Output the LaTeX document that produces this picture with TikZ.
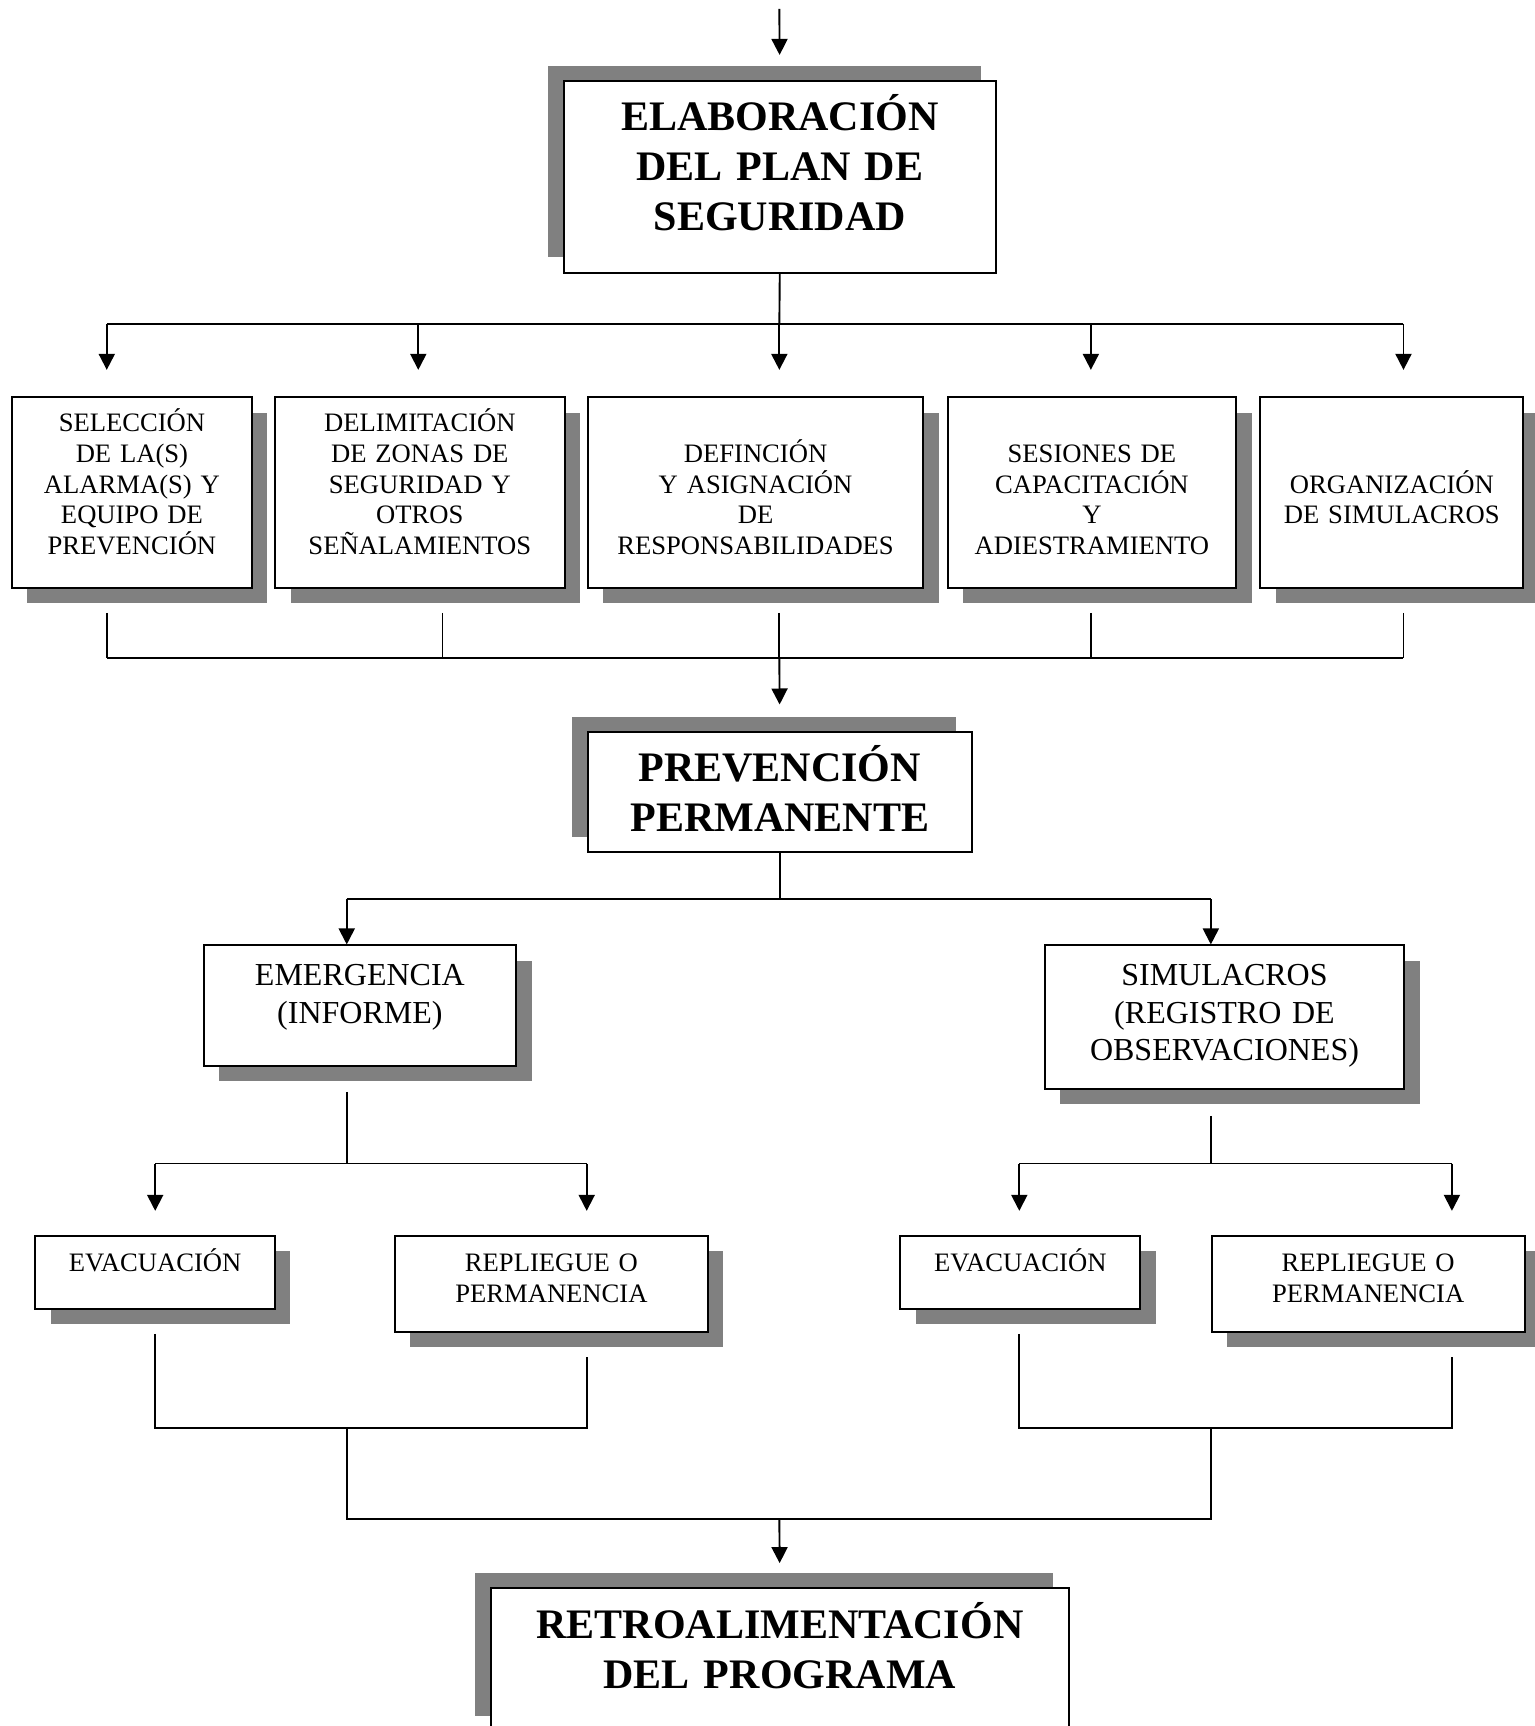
\documentclass[tikz,border=0pt]{standalone}
\usepackage{fontspec}
\setmainfont{Liberation Serif}
\usetikzlibrary{arrows.meta,shadows}

\tikzset{
  caja/.style={draw, fill=white, line width=1pt, inner sep=0pt, align=center, anchor=north west},
  sombrabaja/.style={drop shadow={shadow xshift=7.7pt, shadow yshift=-7.7pt, opacity=1, fill=black!50}},
  sombraalta/.style={drop shadow={shadow xshift=-7.7pt, shadow yshift=7.7pt, opacity=1, fill=black!50}},
  titulo/.style={font=\fontsize{21}{25}\selectfont\bfseries},
  chico/.style={font=\fontsize{13.3}{15.4}\selectfont},
  medio/.style={font=\fontsize{16}{18.7}\selectfont},
  linea/.style={line width=0.95pt}
}

\begin{document}
\begin{tikzpicture}[x=0.5502pt, y=-0.5502pt, >={Triangle[width=8pt,length=8pt]}]
\useasboundingbox (0,0) rectangle (1394,1568);

% plan
\node[caja, sombraalta, titulo, text width=216.2pt, text height=24.5pt, text depth=71.2pt] (T) at (511,73) {ELABORACIÓN\\ DEL PLAN DE\\ SEGURIDAD};

% actividades
\node[caja, sombrabaja, chico, text width=119.9pt, text height=17.1pt, text depth=78.1pt] (b1) at (10,360) {SELECCIÓN\\ DE LA(S)\\ ALARMA(S) Y\\ EQUIPO DE\\ PREVENCIÓN};
\node[caja, sombrabaja, chico, text width=144.7pt, text height=17.1pt, text depth=78.1pt] (b2) at (249,360) {DELIMITACIÓN\\ DE ZONAS DE\\ SEGURIDAD Y\\ OTROS\\ SEÑALAMIENTOS};
\node[caja, sombrabaja, chico, text width=167.8pt, text height=32.5pt, text depth=62.7pt] (b3) at (533,360) {DEFINCIÓN\\ Y ASIGNACIÓN\\ DE\\ RESPONSABILIDADES};
\node[caja, sombrabaja, chico, text width=144.2pt, text height=32.5pt, text depth=62.7pt] (b4) at (860,360) {SESIONES DE\\ CAPACITACIÓN\\ Y\\ ADIESTRAMIENTO};
\node[caja, sombrabaja, chico, text width=131.5pt, text height=47.9pt, text depth=47.3pt] (b5) at (1144,360) {ORGANIZACIÓN\\ DE SIMULACROS};

% prevencion
\node[caja, sombraalta, titulo, text width=192pt, text height=25pt, text depth=35pt] (P) at (533,664) {PREVENCIÓN\\ PERMANENTE};

\node[caja, sombrabaja, medio, text width=156.3pt, text height=20.1pt, text depth=39.9pt] (E) at (184,858) {EMERGENCIA\\ (INFORME)};
\node[caja, sombrabaja, medio, text width=179.9pt, text height=20.1pt, text depth=51.4pt] (S) at (948,858) {SIMULACROS\\ (REGISTRO DE\\ OBSERVACIONES)};

\node[caja, sombrabaja, chico, text width=119.9pt, text height=17.6pt, text depth=18.7pt] (EL) at (31,1122) {EVACUACIÓN};
\node[caja, sombrabaja, chico, text width=156.3pt, text height=17.6pt, text depth=30.3pt] (RL) at (358,1122) {REPLIEGUE O\\ PERMANENCIA};
\node[caja, sombrabaja, chico, text width=119.9pt, text height=17.6pt, text depth=18.7pt] (ER) at (817,1122) {EVACUACIÓN};
\node[caja, sombrabaja, chico, text width=156.3pt, text height=17.6pt, text depth=30.3pt] (RR) at (1100,1122) {REPLIEGUE O\\ PERMANENCIA};

% retroalimentacion
\node[caja, sombraalta, titulo, text width=288.9pt, text height=25pt, text depth=46.5pt] (R) at (445,1442) {RETROALIMENTACIÓN\\ DEL PROGRAMA};

% conectores
\coordinate (inicio) at (708,8);
\draw[linea,->,shorten >=12.7pt] (inicio) -- (T.north);

\coordinate (a1) at (97,294);
\coordinate (a2) at (380,294);
\coordinate (a3) at (708,294);
\coordinate (a4) at (991,294);
\coordinate (a5) at (1275,294);
\draw[linea] (T.south) -- (a3);
\draw[linea] (a1) -- (a5);
\foreach \i in {1,...,5}
  \draw[linea,->,shorten >=13.2pt] (a\i) -- (a\i |- b\i.north);

\coordinate (c1) at (97,598);
\coordinate (c2) at (402,598);
\coordinate (c3) at (708,598);
\coordinate (c4) at (991,598);
\coordinate (c5) at (1275,598);
\foreach \i in {1,...,5}
  \draw[linea,shorten <=12.1pt] (c\i |- b\i.south) -- (c\i);
\draw[linea] (c1) -- (c5);
\draw[linea,->,shorten >=13.2pt] (c3) -- (P.north);

\coordinate (d1) at (315,817);
\coordinate (d2) at (1100,817);
\draw[linea] (P.south) -- (P.south |- d1);
\draw[linea] (d1) -- (d2);
\draw[linea,->] (d1) -- (d1 |- E.north);
\draw[linea,->] (d2) -- (d2 |- S.north);

\coordinate (e0) at (315,1057);
\coordinate (e1) at (141,1057);
\coordinate (e2) at (533,1057);
\draw[linea,shorten <=12.7pt] (e0 |- E.south) -- (e0);
\draw[linea] (e1) -- (e2);
\draw[linea,->,shorten >=12.1pt] (e1) -- (e1 |- EL.north);
\draw[linea,->,shorten >=12.1pt] (e2) -- (e2 |- RL.north);

\coordinate (f0) at (1100,1057);
\coordinate (f1) at (926,1057);
\coordinate (f2) at (1319,1057);
\draw[linea,shorten <=13.2pt] (f0 |- S.south) -- (f0);
\draw[linea] (f1) -- (f2);
\draw[linea,->,shorten >=12.1pt] (f1) -- (f1 |- ER.north);
\draw[linea,->,shorten >=12.1pt] (f2) -- (f2 |- RR.north);

\coordinate (g0) at (315,1297);
\coordinate (g1) at (141,1297);
\coordinate (g2) at (533,1297);
\coordinate (h0) at (1100,1297);
\coordinate (h1) at (926,1297);
\coordinate (h2) at (1319,1297);
\draw[linea,shorten <=12.1pt,shorten >=12.1pt] (g1 |- EL.south) -- (g1) -- (g2) -- (g2 |- RL.south);
\draw[linea,shorten <=12.1pt,shorten >=12.1pt] (h1 |- ER.south) -- (h1) -- (h2) -- (h2 |- RR.south);

\coordinate (k1) at (315,1380);
\coordinate (k2) at (1100,1380);
\coordinate (k3) at (708,1380);
\draw[linea] (g0) -- (k1) -- (k2) -- (h0);
\draw[linea,->,shorten >=12.1pt] (k3) -- (R.north);
\end{tikzpicture}
\end{document}
